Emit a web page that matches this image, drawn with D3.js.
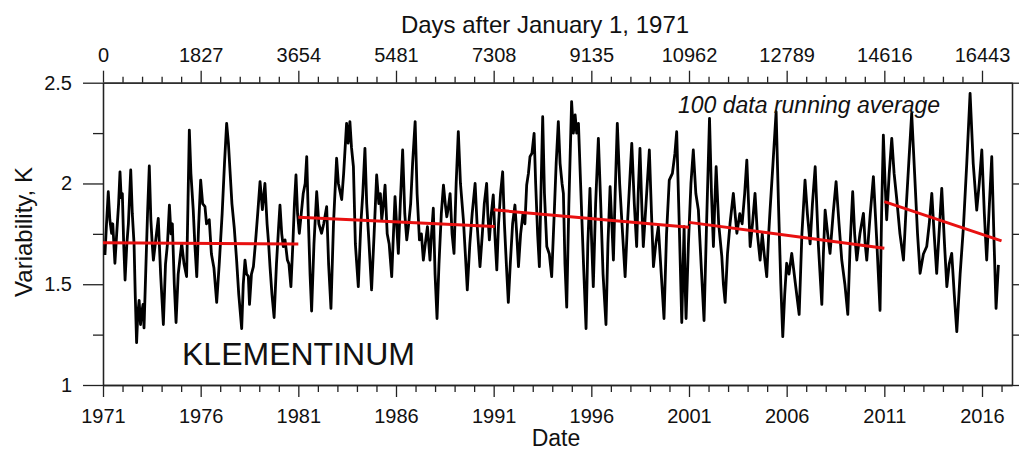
<!DOCTYPE html>
<html><head><meta charset="utf-8">
<script src="https://cdn.jsdelivr.net/npm/d3@7"></script>
<style>
html,body{margin:0;padding:0;background:#fff;}
svg text{font-family:"Liberation Sans",Arial,sans-serif;fill:#111;}
</style></head>
<body><svg id="c" width="1019" height="451"></svg>
<script>
// ---- data (decimal year, variability K) ----
const years = [1971.10,1971.18,1971.27,1971.35,1971.44,1971.50,1971.61,1971.70,1971.80,1971.87,1971.93,1971.99,1972.06,1972.13,1972.22,1972.30,1972.42,1972.50,1972.59,1972.65,1972.72,1972.78,1972.85,1972.92,1972.98,1973.05,1973.10,1973.20,1973.28,1973.37,1973.45,1973.52,1973.58,1973.70,1973.83,1973.95,1974.09,1974.20,1974.30,1974.40,1974.48,1974.55,1974.65,1974.74,1974.85,1975.03,1975.15,1975.28,1975.35,1975.42,1975.50,1975.62,1975.70,1975.80,1975.90,1976.00,1976.10,1976.22,1976.30,1976.44,1976.55,1976.68,1976.82,1976.95,1977.10,1977.22,1977.33,1977.42,1977.50,1977.60,1977.72,1977.84,1977.95,1978.10,1978.18,1978.27,1978.35,1978.44,1978.50,1978.60,1978.70,1978.80,1978.92,1979.04,1979.16,1979.29,1979.40,1979.48,1979.55,1979.65,1979.76,1979.88,1980.00,1980.06,1980.15,1980.23,1980.32,1980.44,1980.52,1980.62,1980.72,1980.80,1980.88,1980.96,1981.05,1981.15,1981.25,1981.35,1981.43,1981.52,1981.60,1981.68,1981.80,1981.94,1982.05,1982.19,1982.30,1982.45,1982.55,1982.67,1982.80,1982.96,1983.05,1983.22,1983.32,1983.47,1983.55,1983.64,1983.72,1983.82,1983.92,1984.07,1984.20,1984.30,1984.41,1984.50,1984.62,1984.75,1984.88,1985.01,1985.12,1985.20,1985.27,1985.36,1985.44,1985.55,1985.65,1985.78,1985.87,1985.95,1986.03,1986.12,1986.22,1986.34,1986.45,1986.55,1986.65,1986.75,1986.85,1986.98,1987.08,1987.20,1987.30,1987.40,1987.50,1987.61,1987.68,1987.74,1987.82,1987.91,1988.00,1988.10,1988.20,1988.32,1988.43,1988.52,1988.60,1988.68,1988.77,1988.87,1988.97,1989.08,1989.19,1989.30,1989.45,1989.55,1989.65,1989.78,1989.90,1990.05,1990.15,1990.30,1990.42,1990.52,1990.64,1990.70,1990.78,1990.88,1990.98,1991.06,1991.16,1991.25,1991.35,1991.46,1991.55,1991.65,1991.75,1991.85,1991.97,1992.09,1992.18,1992.27,1992.38,1992.50,1992.60,1992.69,1992.78,1992.86,1992.96,1993.07,1993.15,1993.25,1993.34,1993.42,1993.51,1993.60,1993.72,1993.85,1993.97,1994.10,1994.20,1994.31,1994.40,1994.50,1994.57,1994.65,1994.74,1994.85,1994.99,1995.08,1995.17,1995.25,1995.34,1995.45,1995.60,1995.73,1995.82,1995.93,1996.02,1996.10,1996.22,1996.36,1996.48,1996.60,1996.75,1996.85,1996.96,1997.05,1997.13,1997.22,1997.33,1997.45,1997.60,1997.73,1997.85,1997.96,1998.07,1998.20,1998.32,1998.40,1998.49,1998.58,1998.66,1998.80,1998.97,1999.08,1999.18,1999.30,1999.43,1999.58,1999.72,1999.85,1999.99,2000.15,2000.28,2000.37,2000.50,2000.63,2000.70,2000.75,2000.80,2000.85,2000.97,2001.10,2001.22,2001.35,2001.48,2001.62,2001.77,2001.90,2002.05,2002.15,2002.25,2002.32,2002.39,2002.52,2002.68,2002.76,2002.85,2002.97,2003.10,2003.27,2003.36,2003.45,2003.60,2003.72,2003.85,2003.96,2004.05,2004.13,2004.25,2004.38,2004.50,2004.64,2004.75,2004.85,2004.98,2005.08,2005.15,2005.30,2005.46,2005.58,2005.70,2005.80,2005.90,2006.00,2006.12,2006.26,2006.45,2006.64,2006.78,2006.94,2007.06,2007.20,2007.32,2007.46,2007.62,2007.80,2007.88,2007.97,2008.10,2008.22,2008.38,2008.53,2008.68,2008.82,2008.98,2009.13,2009.25,2009.38,2009.48,2009.59,2009.75,2009.93,2010.02,2010.10,2010.28,2010.44,2010.62,2010.78,2010.86,2010.95,2011.04,2011.12,2011.25,2011.38,2011.50,2011.64,2011.80,2011.98,2012.10,2012.25,2012.40,2012.55,2012.70,2012.83,2013.00,2013.17,2013.30,2013.43,2013.55,2013.68,2013.80,2013.94,2014.08,2014.20,2014.32,2014.45,2014.58,2014.71,2014.88,2015.05,2015.22,2015.39,2015.55,2015.73,2015.86,2015.99,2016.12,2016.24,2016.38,2016.50,2016.62,2016.72,2016.84];
const variability = [1.645,1.80,1.959,1.82,1.753,1.80,1.604,1.75,1.90,2.058,1.93,1.95,1.70,1.521,1.70,1.80,2.067,1.85,1.70,1.45,1.21,1.35,1.42,1.30,1.36,1.40,1.283,1.60,1.85,2.087,1.82,1.70,1.62,1.72,1.827,1.55,1.30,1.60,1.70,1.893,1.75,1.80,1.50,1.31,1.55,1.703,1.60,1.538,1.90,2.265,2.05,1.868,1.70,1.538,1.80,2.017,1.90,1.885,1.80,1.82,1.65,1.58,1.41,1.60,1.85,2.10,2.298,2.20,2.067,1.90,1.78,1.62,1.45,1.28,1.50,1.62,1.55,1.54,1.40,1.55,1.587,1.70,1.85,2.009,1.87,2.00,1.80,1.70,1.587,1.45,1.335,1.60,1.80,1.893,1.75,1.687,1.72,1.62,1.60,1.488,1.70,1.90,2.042,1.85,1.753,1.85,1.95,2.00,2.133,1.80,1.55,1.367,1.70,1.959,1.80,1.753,1.80,1.885,1.60,1.38,1.80,2.125,2.00,1.92,2.05,2.298,2.20,2.307,2.18,2.083,1.70,1.488,1.80,1.95,2.174,1.90,1.70,1.472,1.75,2.042,1.90,1.95,1.82,1.90,1.992,1.75,1.70,1.538,1.75,1.935,1.80,1.653,1.90,2.166,1.85,1.72,1.80,1.90,2.10,2.307,1.95,1.72,1.75,1.62,1.70,1.786,1.70,1.62,1.75,1.877,1.55,1.33,1.60,1.85,1.992,1.90,1.835,1.88,1.95,1.75,1.653,2.00,2.257,2.00,1.82,1.65,1.472,1.70,1.85,2.00,1.80,1.587,1.75,1.90,2.00,1.85,1.72,1.85,1.943,1.75,1.571,1.80,1.95,2.058,1.80,1.60,1.41,1.60,1.80,1.893,1.75,1.587,1.75,1.85,1.80,1.992,2.05,2.133,2.15,2.249,2.00,1.75,1.587,1.95,2.331,1.95,1.687,1.65,1.538,1.85,2.10,2.307,2.10,2.00,1.95,1.60,1.386,1.90,2.406,2.25,2.34,2.25,2.298,2.00,1.60,1.28,1.70,1.976,1.70,1.488,1.90,2.224,1.90,1.55,1.30,1.70,1.984,1.80,1.62,1.95,2.298,2.00,1.75,1.538,1.80,2.00,2.199,1.90,1.687,1.95,2.174,1.90,1.687,1.90,2.166,1.85,1.587,1.70,1.786,1.55,1.33,1.75,2.017,2.05,2.15,2.257,1.80,1.31,1.60,1.786,1.50,1.33,1.70,2.00,2.166,1.95,1.868,1.60,1.32,1.80,2.323,1.95,1.687,1.90,2.083,1.80,1.637,1.50,1.41,1.65,1.80,1.951,1.85,1.753,1.85,1.80,1.95,2.116,1.90,1.687,1.80,1.951,1.75,1.62,1.75,1.65,1.538,1.75,1.868,2.10,2.356,1.90,1.50,1.24,1.45,1.604,1.55,1.653,1.50,1.35,1.75,2.017,1.85,1.70,1.90,2.083,1.70,1.40,1.65,1.868,1.75,1.653,1.85,2.009,1.80,1.62,1.50,1.35,1.70,1.959,1.75,1.62,1.75,1.852,1.70,1.62,1.85,2.034,1.70,1.37,1.85,2.24,2.00,1.82,2.05,2.224,2.05,1.918,1.75,1.62,1.85,2.10,2.348,2.05,1.75,1.554,1.65,1.687,1.80,1.951,1.75,1.554,1.75,1.976,1.70,1.488,1.60,1.653,1.45,1.265,1.55,1.786,2.10,2.447,2.10,1.868,2.00,2.166,1.85,1.62,1.90,2.133,1.70,1.38,1.596];

// decadal linear trends
const trendStartYear  = [1971.0, 1981.0, 1991.0, 2001.0, 2011.0];
const trendEndYear    = [1981.0, 1991.05, 2001.0, 2011.0, 2017.0];
const trendStartValue = [1.706, 1.832, 1.869, 1.807, 1.910];
const trendEndValue   = [1.700, 1.786, 1.783, 1.678, 1.715];

// axis ticks
const yearMajor = [1971,1976,1981,1986,1991,1996,2001,2006,2011,2016];
const dayMajor  = [0,1827,3654,5481,7308,9135,10962,12789,14616,16443];
const yMajor    = [1,1.5,2,2.5];
const yMinor    = [1.25,1.75,2.25];

// ---- layout ----
const svg = d3.select("#c");
const L = 103, R = 1012, T = 82.7, B = 385;
const yearEnd = 1971 + (R - L) / ((982 - 103) / 45);
const x = d3.scaleLinear().domain([1971, yearEnd]).range([L, R]);
const daysPerYear = 16443 / 45;
const xd = d3.scaleLinear().domain([0, (yearEnd - 1971) * daysPerYear]).range([L, R]);
const y = d3.scaleLinear().domain([1, 2.5]).range([B, T]);

const yearMinor = d3.range(1971, 2018).filter(v => !yearMajor.includes(v));
const dayMinor = d3.range(0, 46).map(i => i * daysPerYear).filter((v, i) => i % 5 !== 0);

function styleAxis(g){
  g.selectAll("path,line").attr("stroke","#222").attr("stroke-width",1.3);
  g.selectAll("text").attr("font-size",20).attr("fill","#111")
   .attr("font-family",'"Liberation Sans",Arial,sans-serif');
}

// bottom
svg.append("g").attr("transform",`translate(0,${B})`)
  .call(d3.axisBottom(x).tickValues(yearMajor).tickFormat(d3.format("d")).tickSize(12).tickSizeOuter(0).tickPadding(12))
  .call(styleAxis);
svg.append("g").attr("transform",`translate(0,${B})`)
  .call(d3.axisBottom(x).tickValues(yearMinor).tickFormat("").tickSize(7).tickSizeOuter(0))
  .call(styleAxis);
// top
svg.append("g").attr("transform",`translate(0,${T})`)
  .call(d3.axisTop(xd).tickValues(dayMajor).tickFormat(d3.format("d")).tickSize(12).tickSizeOuter(0).tickPadding(9))
  .call(styleAxis);
svg.append("g").attr("transform",`translate(0,${T})`)
  .call(d3.axisTop(xd).tickValues(dayMinor).tickFormat("").tickSize(6).tickSizeOuter(0))
  .call(styleAxis);
// left
svg.append("g").attr("transform",`translate(${L},0)`)
  .call(d3.axisLeft(y).tickValues(yMajor).tickFormat(d => d3.format("")(d)).tickSize(20).tickSizeOuter(0).tickPadding(11))
  .call(styleAxis);
svg.append("g").attr("transform",`translate(${L},0)`)
  .call(d3.axisLeft(y).tickValues(yMinor).tickFormat("").tickSize(10).tickSizeOuter(0))
  .call(styleAxis);
// right
svg.append("g").attr("transform",`translate(${R},0)`)
  .call(d3.axisRight(y).tickValues(yMajor).tickFormat("").tickSize(20).tickSizeOuter(0))
  .call(styleAxis);
svg.append("g").attr("transform",`translate(${R},0)`)
  .call(d3.axisRight(y).tickValues(yMinor).tickFormat("").tickSize(10).tickSizeOuter(0))
  .call(styleAxis);

// series
const pts = years.map((yr, i) => [yr, variability[i]]);
svg.append("path").datum(pts)
  .attr("fill","none").attr("stroke","#000").attr("stroke-width",2.8)
  .attr("stroke-linejoin","round")
  .attr("d", d3.line().x(d => x(d[0])).y(d => y(d[1])));

// trends
svg.append("g").selectAll("line").data(trendStartYear).join("line")
  .attr("x1",(d,i)=>x(trendStartYear[i])).attr("x2",(d,i)=>x(trendEndYear[i]))
  .attr("y1",(d,i)=>y(trendStartValue[i])).attr("y2",(d,i)=>y(trendEndValue[i]))
  .attr("stroke","#e81010").attr("stroke-width",3);

// texts
svg.append("text").attr("x",545).attr("y",33).attr("text-anchor","middle").attr("font-size",24)
  .text("Days after January 1, 1971");
svg.append("text").attr("x",556).attr("y",446).attr("text-anchor","middle").attr("font-size",23)
  .text("Date");
svg.append("text").attr("transform","translate(32,232) rotate(-90)").attr("text-anchor","middle").attr("font-size",24)
  .text("Variability, K");
svg.append("text").attr("x",182).attr("y",365).attr("font-size",32).text("KLEMENTINUM");
svg.append("text").attr("x",678).attr("y",113).attr("font-size",23).attr("font-style","italic")
  .text("100 data running average");
</script></body></html>
